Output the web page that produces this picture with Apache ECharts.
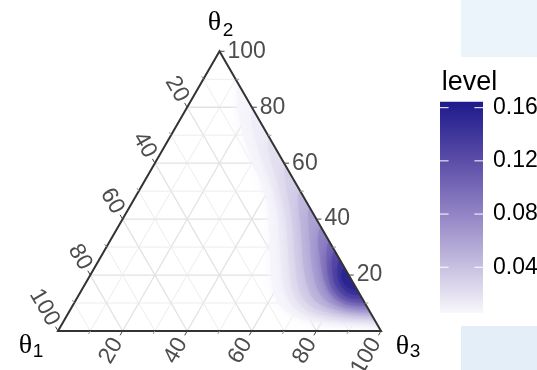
<!DOCTYPE html>
<html><head><meta charset="utf-8">
<script src="https://cdn.jsdelivr.net/npm/echarts@6/dist/echarts.min.js"></script>
<style>html,body{margin:0;padding:0;background:#fff}#c{width:537px;height:370px}</style>
</head><body><div id="c"></div><script>
// ---------- data ----------
const gridValues = [10,20,30,40,50,60,70,80,90];
const tickValues = [10,20,30,40,50,60,70,80,90,100];
const axisLabelValues = [20,40,60,80,100];
const axisTitles = ['\u03b8', '1', '2', '3'];
// density contour levels
const levels = [0.006,0.012,0.02,0.03,0.045,0.06,0.08,0.10,0.12,0.14,0.155];
// contour polygons, points as [theta1, theta2] in percent (theta3 = 100 - theta1 - theta2)
const c006 = [[-6,88],[0,88],[3.3,82.6],[7.2,71.9],[9.4,61.1],[10.8,52.2],[12.5,45],[16.6,36.1],[21.7,25.4],[26.1,14.7],[26.6,8.2],[22.8,4.6],[14.2,3.2],[5.1,2.9],[0,2.5],[-6,2.5]];
const c012 = [[-6,79],[0,79],[3,74],[5.5,65],[7,57],[8.5,50],[11,42],[15,33],[19,24],[22.5,15],[23,9],[20,5.5],[13,4],[5,3.6],[0,3.2],[-6,3.2]];
const c020 = [[-6,69],[0,69],[3,63],[5,55],[7,48],[9.5,40],[13,32],[17,23],[20,15],[20.5,10],[18,6.5],[11,5],[4,4.5],[0,4.2],[-6,4.2]];
const c030 = [[-6,59],[0,59],[3,53],[5.5,46],[8,39],[11.5,31],[15,23],[18,15],[18,10.5],[15.5,7.5],[9,6],[3,5.5],[0,5.2],[-6,5.2]];
const c045 = [[-6,50],[0,50],[3,45],[5.5,39],[9,31],[12.5,23],[15,15],[15,11],[12.5,8.5],[7,7],[2,6.5],[0,6.5],[-6,6.5]];
const c060 = [[-6,44],[0,44],[3,39],[6,32],[9.5,24],[12,16],[12,12],[10,9.5],[5.5,8],[1,7.5],[0,7.5],[-6,7.5]];
const c080 = [[-6,37],[0,37],[3,33],[5.5,27],[8,20],[9,15],[8.5,11.5],[6,9.5],[2.5,9],[0,9],[-6,9]];
const c100 = [[-6,32],[0,32],[2.5,28.5],[5,23.5],[7,18],[7.5,14],[6.5,11.5],[4,10.3],[1,10],[0,10],[-6,10]];
const c120 = [[-6,28.5],[0,28.5],[2.5,25.5],[4.5,21],[5.8,17],[5.5,13.5],[4,11.8],[0,11.3],[-6,11.3]];
const c140 = [[-6,25.5],[0,25.5],[2.2,22.5],[3.8,19],[4.2,16],[3.2,13.5],[0,12.8],[-6,12.8]];
const c155 = [[-6,22.5],[0,22.5],[2,20.5],[3,18],[2.6,15.8],[1.2,14.8],[0,14.6],[-6,14.6]];
const contours = [c006,c012,c020,c030,c045,c060,c080,c100,c120,c140,c155];
// legend
const legendTitle = 'level';
const legendTicks = [0.04,0.08,0.12,0.16];
const legendLabels = ['0.04','0.08','0.12','0.16'];
const legendRange = [0.0056,0.1645];

// ---------- styling helpers ----------
const colorStops = [[0.0056,'#F8F7FC'],[0.02,'#E4E0F0'],[0.04,'#C8C1E1'],[0.08,'#9284C5'],[0.12,'#5C4DA8'],[0.1645,'#1D1A8B']];
function hex2rgb(h){return [parseInt(h.slice(1,3),16),parseInt(h.slice(3,5),16),parseInt(h.slice(5,7),16)];}
function colorAt(v){
  if(v<=colorStops[0][0]) return colorStops[0][1];
  for(let i=1;i<colorStops.length;i++){
    if(v<=colorStops[i][0]){
      const a=colorStops[i-1], b=colorStops[i];
      const t=(v-a[0])/(b[0]-a[0]);
      const ca=hex2rgb(a[1]), cb=hex2rgb(b[1]);
      const c=ca.map((x,k)=>Math.round(x+(cb[k]-x)*t));
      return 'rgb('+c.join(',')+')';
    }
  }
  return colorStops[colorStops.length-1][1];
}
// ternary -> cartesian (x in [0,1], y = theta2 fraction)
function T(t1,t2){const t3=100-t1-t2;return [(t3+t2/2)/100,t2/100];}
const S3=Math.sqrt(3)/2;
const FONT='"Liberation Sans", Arial, Helvetica, sans-serif';

function renderGrid(params, api){
  const c = gridValues[params.dataIndex];
  const major = c%20===0;
  const st = {stroke: major?'#E2E2E2':'#EDEDED', lineWidth: major?1.3:1};
  const P=(a,b)=>api.coord(T(a,b));
  const segs=[[P(c,0),P(c,100-c)],[P(100-c,c),P(0,c)],[P(100-c,0),P(0,100-c)]];
  return {type:'group',children:segs.map(s=>({type:'line',shape:{x1:s[0][0],y1:s[0][1],x2:s[1][0],y2:s[1][1]},style:st}))};
}
function renderDensity(params, api){
  const i=params.dataIndex;
  const pts=contours[i].map(p=>api.coord(T(p[0],p[1])));
  const col=colorAt(levels[i]);
  return {type:'polygon',shape:{points:pts,smooth:0.35},style:{fill:col,stroke:null,shadowBlur:14,shadowColor:col}};
}
function renderFrame(params, api){
  const P=(a,b)=>api.coord(T(a,b));
  const ch=[];
  ch.push({type:'polygon',shape:{points:[[0.5,1],[1,0],[1,-0.08],[1.15,-0.08],[1.15,1.06],[0.5,1.06]].map(p=>api.coord(p))},style:{fill:'#fff'}});
  ch.push({type:'polygon',shape:{points:[P(0,100),P(100,0),P(0,0)]},style:{fill:null,stroke:'#333333',lineWidth:2}});
  tickValues.forEach(c=>{
    const major=c%20===0;
    const len=major?5:3.5;
    const st={stroke:major?'#444':'#999',lineWidth:1};
    const pr=P(0,c), pl=P(c,100-c), pb=P(100-c,0);
    ch.push({type:'line',shape:{x1:pr[0],y1:pr[1],x2:pr[0]+len,y2:pr[1]},style:st});
    ch.push({type:'line',shape:{x1:pl[0],y1:pl[1],x2:pl[0]-0.5*len,y2:pl[1]-S3*len},style:st});
    ch.push({type:'line',shape:{x1:pb[0],y1:pb[1],x2:pb[0]-0.5*len,y2:pb[1]+S3*len},style:st});
  });
  const ls={fontSize:23,fontFamily:FONT,fill:'#4D4D4D'};
  axisLabelValues.forEach(c=>{
    const pr=P(0,c), pl=P(c,100-c), pb=P(100-c,0);
    ch.push({type:'text',x:pr[0]+8,y:pr[1],style:Object.assign({text:String(c),align:'left',verticalAlign:'middle'},ls)});
    ch.push({type:'text',x:pl[0]-0.5*8,y:pl[1]-S3*8,rotation:-Math.PI/3,style:Object.assign({text:String(c),align:'right',verticalAlign:'middle'},ls)});
    ch.push({type:'text',x:pb[0]-0.5*10,y:pb[1]+S3*10,rotation:Math.PI/3,style:Object.assign({text:String(c),align:'right',verticalAlign:'middle'},ls)});
  });
  const vL=P(100,0), vT=P(0,100), vR=P(0,0);
  const th={fontSize:28,fontFamily:'"Liberation Serif", "DejaVu Serif", serif',fill:'#000',align:'center',verticalAlign:'middle'};
  const sb={fontSize:19,fontFamily:FONT,fill:'#000',align:'center',verticalAlign:'middle'};
  const titles=[[vL,axisTitles[1],[-32.5,15],[-20,21]],[vT,axisTitles[2],[-5,-28.5],[8.5,-20.5]],[vR,axisTitles[3],[21.5,16],[34,21]]];
  titles.forEach(t=>{
    ch.push({type:'text',x:t[0][0]+t[2][0],y:t[0][1]+t[2][1],style:Object.assign({text:axisTitles[0]},th)});
    ch.push({type:'text',x:t[0][0]+t[3][0],y:t[0][1]+t[3][1],style:Object.assign({text:t[1]},sb)});
  });
  return {type:'group',children:ch};
}
function renderColorbar(params, api){
  const a=api.coord([0,legendRange[1]]), b=api.coord([1,legendRange[0]]);
  const span=legendRange[1]-legendRange[0];
  const stops=colorStops.map(s=>({offset:Math.min(1,Math.max(0,(s[0]-legendRange[0])/span)),color:s[1]}));
  const ch=[];
  ch.push({type:'rect',shape:{x:a[0],y:a[1],width:b[0]-a[0],height:b[1]-a[1]},
    style:{fill:{type:'linear',x:0,y:1,x2:0,y2:0,colorStops:stops}}});
  const w=b[0]-a[0];
  legendTicks.forEach((v,k)=>{
    const p=api.coord([0,v]);
    ch.push({type:'line',shape:{x1:a[0],y1:p[1],x2:a[0]+w/5,y2:p[1]},style:{stroke:'#fff',lineWidth:1}});
    ch.push({type:'line',shape:{x1:b[0]-w/5,y1:p[1],x2:b[0],y2:p[1]},style:{stroke:'#fff',lineWidth:1}});
    ch.push({type:'text',x:b[0]+10,y:p[1],style:{text:legendLabels[k],fontSize:23,fontFamily:FONT,fill:'#000',align:'left',verticalAlign:'middle'}});
  });
  ch.push({type:'text',x:a[0]+1.7,y:a[1]-19.5,style:{text:legendTitle,fontSize:27,fontFamily:FONT,fill:'#000',align:'left',verticalAlign:'middle'}});
  return {type:'group',children:ch};
}

const chart=echarts.init(document.getElementById('c'),null,{renderer:'canvas'});
chart.setOption({
  animation:false,
  backgroundColor:'#fff',
  grid:[{left:58,top:51.3,width:323,height:279.7},{left:440,top:101.7,width:43,height:211.3}],
  xAxis:[{type:'value',min:0,max:1,show:false,gridIndex:0},{type:'value',min:0,max:1,show:false,gridIndex:1}],
  yAxis:[{type:'value',min:0,max:1,show:false,gridIndex:0},{type:'value',min:legendRange[0],max:legendRange[1],show:false,gridIndex:1}],
  graphic:[
    {type:'rect',left:461,top:0,shape:{width:76,height:57},style:{fill:'#EBF3FB'}},
    {type:'rect',left:461,top:326,shape:{width:76,height:44},style:{fill:'#E3EEF8'}}
  ],
  series:[
    {type:'custom',z:1,silent:true,xAxisIndex:0,yAxisIndex:0,data:gridValues.map((v,i)=>[i]),renderItem:renderGrid},
    {type:'custom',z:2,silent:true,xAxisIndex:0,yAxisIndex:0,data:levels.map((v,i)=>[i]),renderItem:renderDensity},
    {type:'custom',z:3,silent:true,xAxisIndex:0,yAxisIndex:0,data:[[0]],renderItem:renderFrame},
    {type:'custom',z:3,silent:true,xAxisIndex:1,yAxisIndex:1,data:[[0]],renderItem:renderColorbar}
  ]
});
</script></body></html>
